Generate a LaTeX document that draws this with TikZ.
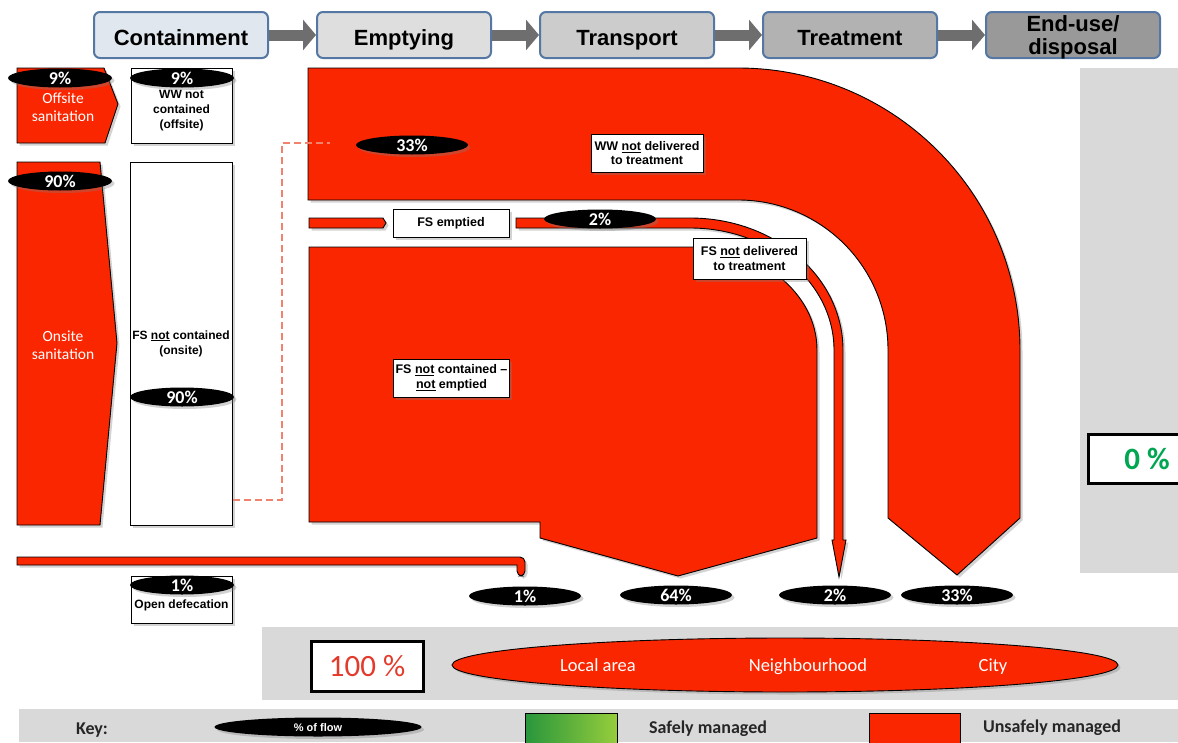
\documentclass[tikz,border=0pt]{standalone}
\usepackage{fontspec}
\setmainfont{Liberation Sans}
\newfontfamily\calib{Carlito}
\usetikzlibrary{positioning, shapes.geometric, arrows.meta, shadows}
\definecolor{unsafered}{RGB}{250,38,0}
\definecolor{panelgray}{RGB}{217,217,217}
\definecolor{stageblue}{RGB}{84,120,163}
\definecolor{arrowgray}{RGB}{110,110,110}
\definecolor{dashred}{RGB}{240,130,110}
\definecolor{zerogreen}{RGB}{0,166,81}
\definecolor{hundredred}{RGB}{228,58,44}
\definecolor{safedark}{RGB}{40,150,60}
\definecolor{safelight}{RGB}{150,205,60}
\tikzset{x=1pt, y=-1pt, % one unit is one pixel of the layout, y runs downwards
softshadow/.style={drop shadow={shadow xshift=2.5pt, shadow yshift=-2.5pt, opacity=0.35}}, % shadow under shapes
flow/.style={draw=black, line width=0.9pt, fill=unsafered, softshadow}, % red flow bands
stage/.style={draw=stageblue, line width=2pt, rounded corners=6pt, minimum width=174pt, minimum height=46pt, inner sep=0pt, text height=20pt, text depth=0pt, font=\bfseries\fontsize{22}{23}\selectfont}, % chain boxes on top
stagearrow/.style={draw=arrowgray, line width=11pt, -{Triangle[length=13pt, width=30pt]}}, % arrows between chain boxes
pct/.style={ellipse, fill=black, text=white, inner sep=0pt, minimum width=112pt, minimum height=19pt, text height=12pt, text depth=0pt, font=\calib\bfseries\fontsize{18}{18}\selectfont, softshadow}, % % of flow
box/.style={draw=black, line width=0.6pt, fill=white, inner sep=0pt, softshadow}, % white boxes
lbl/.style={draw=black, line width=0.6pt, fill=white, align=center, inner sep=2pt, font=\bfseries\fontsize{12.5}{14.5}\selectfont, softshadow}, % labels on the flows
smalltext/.style={align=center, font=\bfseries\fontsize{12}{15}\selectfont}, % text in the white boxes
sidetext/.style={align=center, text=white, font=\calib\fontsize{15.5}{18.5}\selectfont}, % text in the red source shapes
areatext/.style={text=white, text height=13pt, text depth=4pt, font=\calib\fontsize{18.5}{18.5}\selectfont}, % scale of the area
keytext/.style={text=black!85, text height=13pt, text depth=4pt, font=\calib\bfseries\fontsize{18}{18}\selectfont}, % key texts
bigbox/.style={draw=black, line width=3pt, fill=white, inner sep=0pt, font=\calib\fontsize{31}{31}\selectfont},
}

\begin{document}
\begin{tikzpicture}
    \useasboundingbox (0,0) rectangle (1178,742);
    % panels
    \fill[panelgray] (1080,68) rectangle (1178,573);
    \fill[panelgray] (262,627) rectangle (1178,700);
    \fill[panelgray] (19,709) rectangle (1178,742);

    % service chain
    \node[stage, fill=stageblue!18] (cont) at (181,35) {Containment};
    \node[stage, fill=black!13, right=47pt of cont] (empt) {Emptying};
    \node[stage, fill=black!20, right=47pt of empt] (trans) {Transport};
    \node[stage, fill=black!30, right=47pt of trans] (treat) {Treatment};
    \node[stage, fill=black!40, right=47pt of treat, align=center, text height=38pt] (enduse) {End-use/\\disposal};
    \foreach \a/\b in {cont/empt, empt/trans, trans/treat, treat/enduse}
        \draw[stagearrow] (\a) -- (\b);

    % containment column
    \draw[flow] (17,68) -- (104,68) -- (118,104) -- (105,143) -- (17,143) -- cycle;
    \node[sidetext] (offs) at (63,107) {Offsite\\sanitation};
    \draw[flow] (17,162) -- (100,162) -- (117,343) -- (100,525) -- (17,525) -- cycle;
    \node[sidetext] (ons) at (63,345) {Onsite\\sanitation};
    \node[box, minimum width=101pt, minimum height=75pt] (wwnc) at (181.5,105.5) {};
    \node[smalltext] (wwnctxt) at (181.5,111) {WW not\\contained\\(offsite)};
    \node[box, smalltext, minimum width=102pt, minimum height=363pt] (fsnc) at (181,343.5) {FS \underline{not} contained\\(onsite)};
    \node[box, minimum width=101pt, minimum height=47pt] (od) at (181.5,599.5) {};
    \node[smalltext] (odtxt) at (181.5,605) {Open defecation};
    \node[pct, minimum width=104pt] (p9a) at (60,78) {9\%};
    \node[pct, minimum width=104pt] (p9b) at (182,78) {9\%};
    \node[pct, minimum width=104pt] (p90a) at (60,181) {90\%};
    \node[pct, minimum width=104pt] (p90b) at (182,397) {90\%};
    \node[pct, minimum width=104pt] (p1a) at (182,585) {1\%};

    % flows
    \draw[flow] (308,68) -- (738,68) .. controls (894,68) and (1020,194) .. (1020,350) -- (1020,518) -- (957,575) -- (888,518) -- (888,350) .. controls (888,267) and (821,200) .. (738,200) -- (308,200) -- cycle;
    \draw[flow] (309,218) -- (383,218) -- (386,223) -- (383,228) -- (309,228) -- cycle;
    \draw[flow] (516,218) -- (690,218) .. controls (775,218) and (843,277) .. (843,350) -- (843,540) -- (846,540) -- (839,577) -- (832,540) -- (834,540) -- (834,350) .. controls (834,283) and (770,228) .. (690,228) -- (516,228) -- cycle;
    \draw[flow] (309,247) -- (690,247) .. controls (760,247) and (817,293) .. (817,350) -- (817,538) -- (678,576) -- (540,538) -- (540,522) -- (309,522) -- cycle;
    \draw[flow] (17,557) [rounded corners=5pt] -- (525,557) -- (525,576) -- (517,576) [sharp corners] -- (517,565) -- (17,565) -- cycle;

    % dashed link from onsite to wastewater
    \coordinate (dashA) at (233,500);
    \coordinate (dashB) at (330,143);
    \draw[dashred, line width=1.5pt, dash pattern=on 7pt off 4pt] (dashA) -- ++(49,0) |- (dashB);

    % labels on the flows
    \node[pct] (p33) at (412,145) {33\%};
    \node[pct] (p2) at (600,219) {2\%};
    \node[lbl, minimum width=112pt, minimum height=38pt] (wwnd) at (647,153) {WW \underline{not} delivered\\to treatment};
    \node[lbl, minimum width=116pt, minimum height=28pt] (fse) at (451,223) {FS emptied};
    \node[lbl, minimum width=113pt, minimum height=41pt] (fsnd) at (749.5,258.5) {FS \underline{not} delivered\\to treatment};
    \node[lbl, minimum width=115pt, minimum height=38pt] (fsne) at (451.5,378) {FS \underline{not} contained --\\\underline{not} emptied};
    \node[pct] (p1b) at (525,596) {1\%};
    \node[pct] (p64) at (676,595) {64\%};
    \node[pct] (p2b) at (835,595) {2\%};
    \node[pct] (p33b) at (957,595) {33\%};

    % totals
    \node[bigbox, text=zerogreen, minimum width=118pt, minimum height=49pt, font=\calib\bfseries\fontsize{31}{31}\selectfont] (zero) at (1147,458.5) {0 \%};
    \node[bigbox, text=hundredred, minimum width=112pt, minimum height=50pt] (hundred) at (367,666) {100 \%};
    \node[ellipse, draw=black, line width=0.9pt, fill=unsafered, minimum width=666pt, minimum height=54pt, softshadow] (area) at (785,665) {};
    \node[areatext] (loc) at (598,667) {Local area};
    \node[areatext] (nbh) at (808,667) {Neighbourhood};
    \node[areatext] (city) at (993,667) {City};

    % key
    \node[keytext] (key) at (92,730) {Key:};
    \node[pct, minimum width=207pt, text height=8pt, font=\bfseries\fontsize{11}{11}\selectfont] (keyflow) at (318,727) {\% of flow};
    \shade[left color=safedark, right color=safelight, draw=black, line width=0.8pt] (525,713) rectangle (617,750);
    \node[keytext] (safe) at (708,729) {Safely managed};
    \draw[fill=unsafered, draw=black, line width=0.8pt] (869,713) rectangle (960,750);
    \node[keytext] (unsafe) at (1052,728) {Unsafely managed};
\end{tikzpicture}
\end{document}
